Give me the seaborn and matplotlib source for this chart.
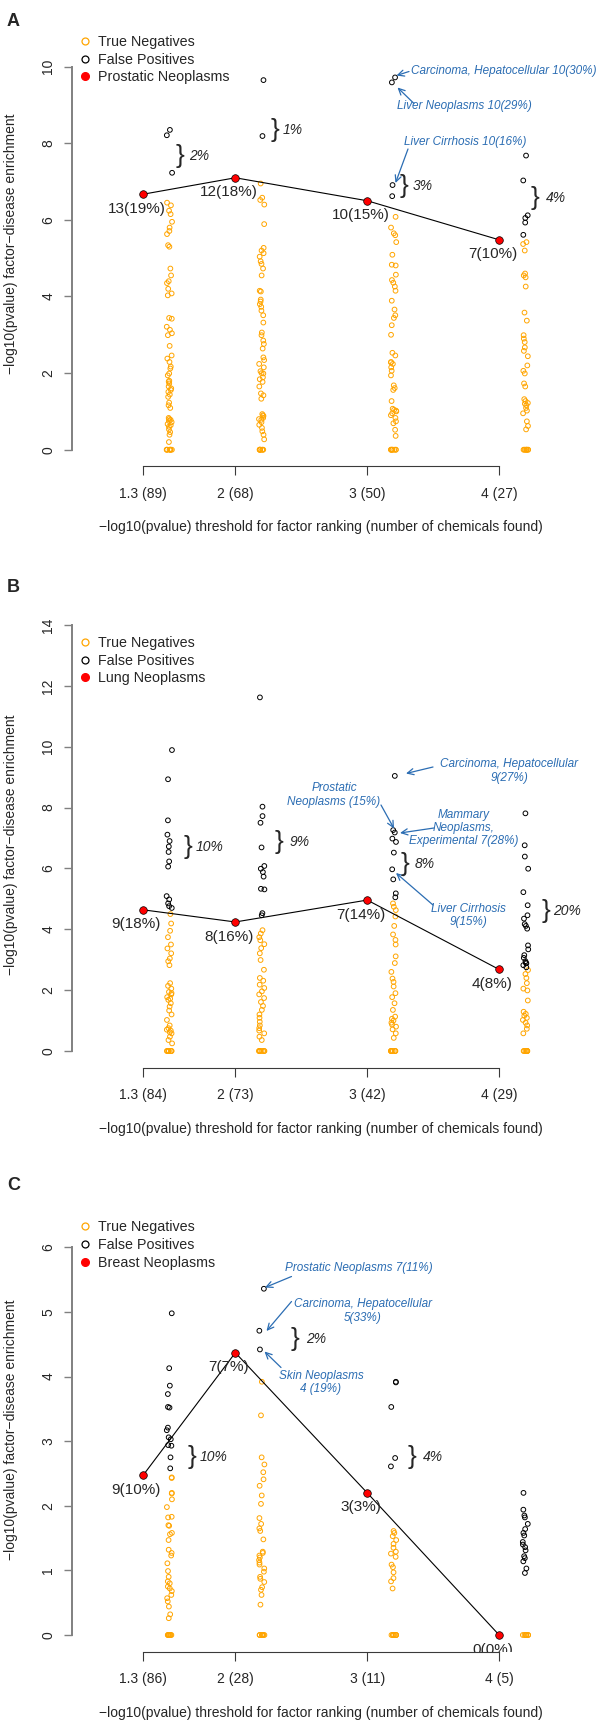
"""Disease-factor enrichment by p-value threshold: three stacked strip panels."""

import numpy as np
import pandas as pd
import matplotlib
matplotlib.use("Agg")
import matplotlib.pyplot as plt
from matplotlib.lines import Line2D
import seaborn as sns

sns.set_style("ticks")
plt.rcParams["font.family"] = ["Liberation Sans", "DejaVu Sans"]
np.random.seed(7)  # only for seaborn's strip jitter

W, H = 600, 1726
BLUE = "#2b6db3"
THRESHOLDS = [1.3, 2, 3, 4]
XLABEL = "\u2212log10(pvalue) threshold for factor ranking (number of chemicals found)"
YLABEL = "\u2212log10(pvalue) factor\u2212disease enrichment"

# ---------------- panel A: Prostatic Neoplasms ----------------
A_DISEASE = "Prostatic Neoplasms"
A_COUNTS = [89, 68, 50, 27]
A_HIT = [6.67, 7.10, 6.50, 5.48]
A_HIT_LABELS = ["13(19%)", "12(18%)", "10(15%)", "7(10%)"]
A_TN = [
    [6.45, 6.38, 6.24, 6.15, 5.95, 5.80, 5.71, 5.63, 5.34, 5.30, 4.73, 4.55, 4.40, 4.35,
     4.20, 4.08, 4.03, 3.44, 3.42, 3.21, 3.13, 3.04, 2.99, 2.71, 2.46, 2.38, 2.29, 2.17,
     2.12, 1.99, 1.94, 1.80, 1.78, 1.73, 1.65, 1.60, 1.56, 1.51, 1.44, 1.38, 1.23, 1.16,
     1.09, 0.83, 0.80, 0.78, 0.75, 0.72, 0.67, 0.64, 0.60, 0.53, 0.46, 0.39, 0.20,
     0, 0, 0, 0, 0, 0, 0, 0],
    [6.95, 6.58, 6.52, 6.40, 5.89, 5.27, 5.20, 5.13, 5.04, 4.92, 4.85, 4.73, 4.55, 4.15,
     4.13, 3.92, 3.87, 3.80, 3.73, 3.63, 3.51, 3.32, 3.06, 2.99, 2.85, 2.76, 2.64, 2.41,
     2.34, 2.24, 2.15, 2.05, 2.00, 1.99, 1.89, 1.84, 1.77, 1.65, 1.47, 1.42, 1.33, 0.93,
     0.90, 0.88, 0.83, 0.80, 0.78, 0.72, 0.65, 0.57, 0.48, 0.39, 0.27,
     0, 0, 0, 0, 0, 0, 0, 0],
    [6.08, 5.80, 5.65, 5.60, 5.42, 5.09, 4.83, 4.81, 4.57, 4.43, 4.36, 4.26, 4.15, 3.89,
     3.66, 3.51, 3.44, 3.25, 3.00, 2.53, 2.46, 2.29, 2.28, 2.24, 2.15, 2.06, 1.94, 1.68,
     1.61, 1.56, 1.27, 1.07, 1.04, 1.02, 1.00, 0.95, 0.90, 0.83, 0.74, 0.69, 0.52, 0.36,
     0, 0, 0, 0, 0, 0, 0, 0],
    [5.42, 5.37, 5.20, 4.60, 4.55, 4.50, 4.26, 3.58, 3.37, 2.99, 2.90, 2.81, 2.67, 2.58,
     2.44, 2.20, 2.06, 1.99, 1.73, 1.65, 1.32, 1.27, 1.22, 1.20, 1.16, 1.09, 1.02, 0.95,
     0.74, 0.62, 0.53, 0, 0, 0, 0, 0, 0, 0, 0],
]
A_FP = [
    [8.35, 8.21, 7.23],
    [9.65, 8.19],
    [9.72, 9.59, 6.91, 6.62],
    [7.68, 7.03, 6.12, 6.05, 5.93, 5.61],
]
A_BRACE_PCT = ["2%", "1%", "3%", "4%"]
A_NOTES = [
    ("Carcinoma, Hepatocellular 10(30%)", 411, 71, "left"),
    ("Liver Neoplasms 10(29%)", 397, 106.5, "left"),
    ("Liver Cirrhosis 10(16%)", 404, 142.5, "left"),
]

# ---------------- panel B: Lung Neoplasms ----------------
B_DISEASE = "Lung Neoplasms"
B_COUNTS = [84, 73, 42, 29]
B_HIT = [4.64, 4.24, 4.96, 2.68]
B_HIT_LABELS = ["9(18%)", "8(16%)", "7(14%)", "4(8%)"]
B_TN = [
    [4.50, 4.19, 3.95, 3.74, 3.50, 3.37, 3.21, 3.04, 2.95, 2.82, 2.23, 2.14, 2.05, 1.94,
     1.90, 1.86, 1.77, 1.72, 1.68, 1.57, 1.46, 1.33, 1.20, 1.02, 0.84, 0.75, 0.70, 0.67,
     0.62, 0.58, 0.47, 0.36, 0.25, 0, 0, 0, 0, 0, 0, 0, 0],
    [3.97, 3.86, 3.74, 3.64, 3.51, 3.38, 3.21, 2.99, 2.67, 2.40, 2.31, 2.18, 2.07, 1.96,
     1.86, 1.74, 1.61, 1.48, 1.35, 1.20, 1.09, 0.96, 0.84, 0.75, 0.67, 0.58, 0.47, 0.36,
     0, 0, 0, 0, 0, 0, 0, 0],
    [4.85, 4.74, 4.63, 4.42, 4.11, 3.83, 3.65, 3.50, 3.11, 2.89, 2.60, 2.38, 2.27, 2.12,
     1.90, 1.77, 1.57, 1.35, 1.13, 1.06, 1.00, 0.93, 0.87, 0.80, 0.71, 0.58, 0.43,
     0, 0, 0, 0, 0, 0, 0, 0],
    [2.66, 2.53, 2.40, 2.23, 2.05, 1.99, 1.66, 1.29, 1.22, 1.16, 1.09, 1.02, 0.93, 0.84,
     0.73, 0.58, 0, 0, 0, 0, 0, 0, 0, 0],
]
B_FP = [
    [9.89, 8.93, 7.58, 7.11, 6.90, 6.72, 6.54, 6.23, 6.06, 5.09, 4.98, 4.85, 4.76, 4.70],
    [11.62, 8.03, 7.72, 7.50, 6.69, 6.08, 5.99, 5.88, 5.73, 5.33, 5.31, 4.53, 4.46],
    [9.04, 7.26, 7.18, 6.98, 6.87, 6.52, 5.97, 5.64, 5.18, 5.05],
    [7.81, 6.76, 6.39, 5.99, 5.22, 4.79, 4.46, 4.35, 4.17, 4.11, 4.02, 3.47, 3.34, 3.15,
     3.06, 2.95, 2.90, 2.88, 2.82, 2.75],
]
B_BRACE_PCT = ["10%", "9%", "8%", "20%"]
B_NOTES = [
    ("Carcinoma, Hepatocellular\n9(27%)", 509, 771, "center"),
    ("Prostatic\nNeoplasms (15%)", 334, 795, "center"),
    ("Mammary\nNeoplasms,\nExperimental 7(28%)", 463.5, 828, "center"),
    ("Liver Cirrhosis\n9(15%)", 468.5, 915.5, "center"),
]

# ---------------- panel C: Breast Neoplasms ----------------
C_DISEASE = "Breast Neoplasms"
C_COUNTS = [86, 28, 11, 5]
C_HIT = [2.47, 4.37, 2.20, 0.0]
C_HIT_LABELS = ["9(10%)", "7(7%)", "3(3%)", "0(0%)"]
C_TN = [
    [2.44, 2.43, 2.20, 2.19, 2.10, 1.98, 1.83, 1.82, 1.70, 1.69, 1.58, 1.56, 1.47, 1.32,
     1.27, 1.23, 1.11, 0.99, 0.90, 0.83, 0.80, 0.75, 0.72, 0.68, 0.62, 0.57, 0.52, 0.44,
     0.32, 0.26, 0, 0, 0, 0, 0, 0, 0, 0],
    [3.92, 3.40, 2.75, 2.64, 2.52, 2.41, 2.31, 2.16, 2.03, 1.81, 1.72, 1.65, 1.61, 1.48,
     1.29, 1.27, 1.23, 1.20, 1.16, 1.12, 1.09, 1.03, 0.98, 0.90, 0.87, 0.82, 0.74, 0.70,
     0.62, 0.47, 0, 0, 0, 0, 0, 0, 0, 0],
    [1.61, 1.58, 1.53, 1.47, 1.41, 1.35, 1.29, 1.26, 1.21, 1.09, 1.05, 0.97, 0.88, 0.83,
     0.72, 0, 0, 0, 0, 0, 0, 0, 0],
    [0, 0, 0, 0, 0, 0, 0, 0],
]
C_FP = [
    [4.98, 4.13, 3.86, 3.73, 3.53, 3.52, 3.21, 3.17, 3.06, 3.03, 2.94, 2.93, 2.75, 2.58],
    [5.36, 4.71, 4.42],
    [3.92, 3.91, 3.53, 2.74, 2.61],
    [2.20, 1.94, 1.85, 1.82, 1.72, 1.64, 1.58, 1.54, 1.44, 1.40, 1.36, 1.31, 1.22, 1.19,
     1.14, 1.03, 0.96],
]
C_BRACE_PCT = ["10%", "2%", "4%"]
C_NOTES = [
    ("Prostatic Neoplasms 7(11%)", 285, 1267.5, "left"),
    ("Carcinoma, Hepatocellular\n5(33%)", 363, 1311, "center"),
    ("Skin Neoplasms\n4 (19%)", 321, 1382.5, "center"),
]

# ---------------- layout (figure pixels, y measured from top) ----------------
X0_PX, X_PPU = 143, 131.9          # pixel of threshold 1.3, pixels per unit
AX_LEFT, AX_RIGHT = 72, 570
STRIP_SHIFT = 0.2
LAYOUT = {
    "A": dict(y0=449.7, ppu=38.3, spine=466.3, top=22, ymax=10, ystep=2,
              letter_y=21, legend_top=35,
              braces=[(180, 156.5, 188), (274.5, 130, 282), (403.5, 186.5, 411.5), (535, 198.5, 545)],
              arrows=[((409, 71.5), (396.5, 75.5)), ((414, 103.5), (397.5, 87.5)),
                      ((408, 149), (395.5, 183))]),
    "B": dict(y0=1051, ppu=30.43, spine=1068, top=622, ymax=14, ystep=2,
              letter_y=588, legend_top=636,
              braces=[(187.5, 847, 195), (278.5, 841.5, 288.5), (405, 864, 414), (545.5, 911, 552)],
              arrows=[((433, 767), (406, 773.5)), ((381, 805), (394, 828.5)),
                      ((434, 828), (400, 833)), ((433, 905), (396, 873))]),
    "C": dict(y0=1635, ppu=64.6, spine=1651.7, top=1208, ymax=6, ystep=1,
              letter_y=1185, legend_top=1220.5,
              braces=[(191.5, 1456.5, 199), (295, 1339, 305), (411.5, 1456.5, 422)],
              arrows=[((291.5, 1276.5), (265, 1287.5)), ((291.5, 1301.5), (266.5, 1331)),
                      ((281, 1367.5), (264.5, 1351.5))]),
}


def ftext(fig, x, y, s, **kw):
    fig.text(x / W, 1 - y / H, s, **kw)


def draw_panel(fig, key, disease, counts, hit, hit_labels, tn, fp, brace_pct, notes):
    lay = LAYOUT[key]
    ax = fig.add_axes([AX_LEFT / W, 1 - lay["spine"] / H, (AX_RIGHT - AX_LEFT) / W,
                       (lay["spine"] - lay["top"]) / H])

    # strips of open circles beside each threshold
    for vals, col in [(tn, "orange"), (fp, "black")]:
        df = pd.DataFrame({
            "x": [t + STRIP_SHIFT for t, v in zip(THRESHOLDS, vals) for _ in v],
            "y": [y for v in vals for y in v],
        })
        n_before = len(ax.collections)
        sns.stripplot(data=df, x="x", y="y", native_scale=True, orient="x",
                      jitter=0.03, color=col, size=3.4, ax=ax, zorder=2)
        # seaborn draws one collection per strip; make them all open circles
        for pts in ax.collections[n_before:]:
            pts.set_facecolor("none")
            pts.set_edgecolor(col)
            pts.set_linewidth(0.7)

    # the disease of interest
    sns.lineplot(x=THRESHOLDS, y=hit, color="black", lw=0.8, sort=False, ax=ax, zorder=3)
    sns.scatterplot(x=THRESHOLDS, y=hit, color="red", edgecolor="black", linewidth=0.5,
                    s=30, ax=ax, zorder=4)
    for t, v, lab in zip(THRESHOLDS, hit, hit_labels):
        a = ax.annotate(lab, (t, v), xytext=(-4.8, -10.5), textcoords="offset points",
                        ha="center", va="center", fontsize=11, zorder=5)
        a.set_clip_box(ax.bbox)   # labels are clipped by the plot region, as in R
        a.set_clip_on(True)

    ax.set_xlim(1.3 - (X0_PX - AX_LEFT) / X_PPU, 1.3 + (AX_RIGHT - X0_PX) / X_PPU)
    ax.set_ylim(-(lay["spine"] - lay["y0"]) / lay["ppu"], (lay["y0"] - lay["top"]) / lay["ppu"])

    ax.set_xticks(THRESHOLDS, labels=[f"{t:g} ({n})" for t, n in zip(THRESHOLDS, counts)])
    ax.set_yticks(np.arange(0, lay["ymax"] + 0.1, lay["ystep"]))
    ax.tick_params(axis="x", length=6.2, width=0.8, color="#3a3a3a", pad=8.5, labelsize=10)
    ax.tick_params(axis="y", length=6.1, width=1.0, color="#808080", pad=6, labelsize=10,
                   labelrotation=90)
    for lab in ax.get_yticklabels():
        lab.set_va("center")

    sns.despine(ax=ax)
    ax.spines["left"].set_bounds(0, lay["ymax"])
    ax.spines["left"].set_color("#808080")
    ax.spines["left"].set_linewidth(1.4)
    ax.spines["bottom"].set_bounds(THRESHOLDS[0], THRESHOLDS[-1])
    ax.spines["bottom"].set_color("#3a3a3a")
    ax.spines["bottom"].set_linewidth(0.8)

    ax_h = lay["spine"] - lay["top"]
    ax.set_xlabel(XLABEL, fontsize=10)
    ax.xaxis.set_label_coords(0.5, -61 / ax_h)
    ax.xaxis.label.set_va("center")
    ax.set_ylabel(YLABEL, fontsize=10)
    ax.yaxis.set_label_coords((11.5 - AX_LEFT) / (AX_RIGHT - AX_LEFT), 0.5)
    ax.yaxis.label.set_va("center")

    handles = [
        Line2D([], [], ls="", marker="o", ms=5, mfc="none", mec="orange", mew=0.9, label="True Negatives"),
        Line2D([], [], ls="", marker="o", ms=5, mfc="none", mec="black", mew=0.9, label="False Positives"),
        Line2D([], [], ls="", marker="o", ms=5.5, mfc="red", mec="red", label=disease),
    ]
    ax.legend(handles=handles, loc="upper left", bbox_to_anchor=(79 / W, 1 - lay["legend_top"] / H),
              bbox_transform=fig.transFigure, frameon=False, fontsize=10.3, handlelength=0.8,
              handletextpad=0.5, labelspacing=0.25, borderpad=0, borderaxespad=0)

    # panel letter, brackets and blue call-outs
    ftext(fig, 7, lay["letter_y"], key, fontsize=13, fontweight="bold", ha="left", va="center")
    for (bx, by, tx), pct in zip(lay["braces"], brace_pct):
        ftext(fig, bx, by, "}", fontsize=19, ha="center", va="center")
        ftext(fig, tx + 1, by, pct, fontsize=10, style="italic", ha="left", va="center")
    for s, x, y, ha in notes:
        ftext(fig, x, y, s, fontsize=8.5, style="italic", color=BLUE, ha=ha, va="center",
              multialignment="center", linespacing=1.15)
    for (tail, tip) in lay["arrows"]:
        ax.annotate("", xy=(tip[0], H - tip[1]), xycoords="figure pixels",
                    xytext=(tail[0], H - tail[1]), textcoords="figure pixels",
                    arrowprops=dict(arrowstyle="->,head_length=0.45,head_width=0.22",
                                    color=BLUE, lw=0.9, shrinkA=0, shrinkB=0),
                    annotation_clip=False)
    return ax


fig = plt.figure(figsize=(W / 100, H / 100), dpi=100)
draw_panel(fig, "A", A_DISEASE, A_COUNTS, A_HIT, A_HIT_LABELS, A_TN, A_FP, A_BRACE_PCT, A_NOTES)
draw_panel(fig, "B", B_DISEASE, B_COUNTS, B_HIT, B_HIT_LABELS, B_TN, B_FP, B_BRACE_PCT, B_NOTES)
draw_panel(fig, "C", C_DISEASE, C_COUNTS, C_HIT, C_HIT_LABELS, C_TN, C_FP, C_BRACE_PCT, C_NOTES)
fig.savefig("out.png", dpi=100)
print("Saved out.png")
